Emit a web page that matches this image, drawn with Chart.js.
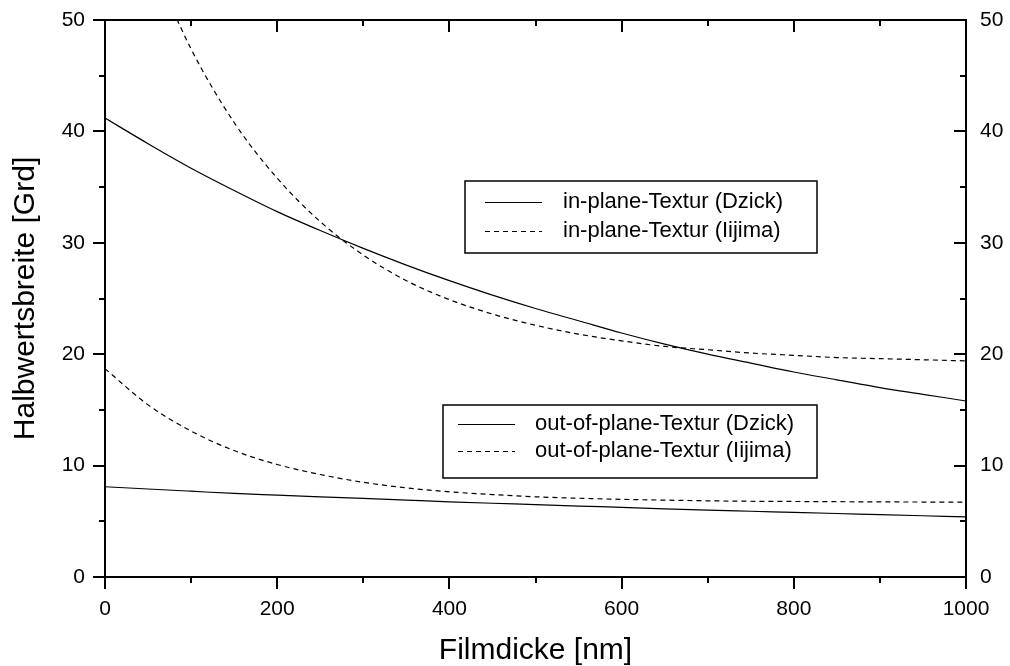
<!DOCTYPE html>
<html>
<head>
<meta charset="utf-8">
<script src="https://cdn.jsdelivr.net/npm/chart.js@4.4.0/dist/chart.umd.min.js"></script>
<style>
  html, body { margin: 0; padding: 0; background: #fff; }
  canvas { display: block; }
</style>
</head>
<body>
<canvas id="myChart" width="1010" height="666"></canvas>
<script>
// Filmdicke in nm
const filmdicke = [0, 50, 100, 150, 200, 250, 300, 350, 400, 450, 500,
                   550, 600, 650, 700, 750, 800, 850, 900, 950, 1000];

// Halbwertsbreite in Grd
const inPlaneDzick = [41.2, 38.9, 36.7, 34.7, 32.8, 31.1, 29.5, 28.0, 26.6, 25.3, 24.1,
                      23.0, 21.9, 20.9, 20.0, 19.2, 18.4, 17.7, 17.0, 16.4, 15.8];
const inPlaneIijima = [null, 56.0, 47.4, 40.8, 35.8, 31.9, 28.9, 26.6, 24.9, 23.6, 22.6,
                       21.8, 21.2, 20.7, 20.4, 20.1, 19.9, 19.7, 19.6, 19.5, 19.4];
const outPlaneDzick = [8.1, 7.9, 7.7, 7.5, 7.35, 7.2, 7.05, 6.9, 6.75, 6.62, 6.5,
                       6.37, 6.25, 6.12, 6.0, 5.9, 5.8, 5.7, 5.6, 5.5, 5.4];
const outPlaneIijima = [18.7, 15.45, 13.1, 11.35, 10.1, 9.2, 8.5, 8.0, 7.65, 7.4, 7.2,
                        7.07, 6.97, 6.9, 6.84, 6.8, 6.78, 6.76, 6.74, 6.73, 6.72];

const seriesLabels = [
  'in-plane-Textur (Dzick)',
  'in-plane-Textur (Iijima)',
  'out-of-plane-Textur (Dzick)',
  'out-of-plane-Textur (Iijima)'
];

const xMin = 0, xMax = 1000, xMajor = 200, xMinor = 100;
const yMin = 0, yMax = 50, yMajor = 10, yMinor = 5;

const FONT = "'Liberation Sans', Arial, sans-serif";

function toPoints(values) {
  return filmdicke.map(function(x, i) { return { x: x, y: values[i] }; });
}

function lineSet(label, values, dashed) {
  return {
    label: label,
    data: toPoints(values),
    borderColor: '#000',
    borderWidth: 1.2,
    borderDash: dashed ? [5, 4] : [],
    pointRadius: 0,
    fill: false,
    cubicInterpolationMode: 'monotone',
    spanGaps: false
  };
}

function plainLabel(v) { return String(v); }

// frame and tick marks (major/minor) drawn from the scales
const frameTicks = {
  id: 'frameTicks',
  afterDatasetsDraw(chart) {
    const ctx = chart.ctx;
    const a = chart.chartArea;
    const xs = chart.scales.x;
    const ys = chart.scales.y;
    ctx.save();
    ctx.strokeStyle = '#000';
    ctx.lineWidth = 2;
    ctx.lineCap = 'square';
    ctx.strokeRect(a.left, a.top, a.right - a.left, a.bottom - a.top);
    ctx.lineCap = 'butt';
    function tick(x1, y1, x2, y2) {
      ctx.beginPath();
      ctx.moveTo(x1, y1);
      ctx.lineTo(x2, y2);
      ctx.stroke();
    }
    for (let v = xMin; v <= xMax; v += xMinor) {
      const px = Math.round(xs.getPixelForValue(v));
      const len = v % xMajor === 0 ? 12 : 6;
      tick(px, a.bottom, px, a.bottom + len);
      tick(px, a.top, px, a.top + len);
    }
    for (let v = yMin; v <= yMax; v += yMinor) {
      const py = Math.round(ys.getPixelForValue(v));
      const len = v % yMajor === 0 ? 12 : 6;
      tick(a.left, py, a.left - len, py);
      tick(a.right, py, a.right - len, py);
    }
    ctx.restore();
  }
};

// two framed legend boxes inside the plot
const legendBoxes = {
  id: 'legendBoxes',
  afterDatasetsDraw(chart) {
    const ctx = chart.ctx;
    const boxes = [
      { x: 465, y: 181, w: 352, h: 72, sx: 485, tx: 563, rows: [0, 1], ry: [202, 231] },
      { x: 443, y: 405, w: 374, h: 73, sx: 458, tx: 535, rows: [2, 3], ry: [424, 451] }
    ];
    ctx.save();
    boxes.forEach(function(b) {
      ctx.fillStyle = '#fff';
      ctx.fillRect(b.x, b.y, b.w, b.h);
      ctx.strokeStyle = '#000';
      ctx.lineWidth = 1.5;
      ctx.setLineDash([]);
      ctx.strokeRect(b.x, b.y, b.w, b.h);
      b.rows.forEach(function(idx, k) {
        const ds = chart.data.datasets[idx];
        const y = b.ry[k];
        ctx.lineWidth = 1.2;
        ctx.setLineDash(ds.borderDash);
        ctx.beginPath();
        ctx.moveTo(b.sx, y + 0.5);
        ctx.lineTo(b.sx + 57, y + 0.5);
        ctx.stroke();
        ctx.setLineDash([]);
        ctx.fillStyle = '#000';
        ctx.font = '22px ' + FONT;
        ctx.textBaseline = 'middle';
        ctx.textAlign = 'left';
        ctx.fillText(ds.label, b.tx, y);
      });
    });
    ctx.restore();
  }
};

new Chart(document.getElementById('myChart'), {
  type: 'line',
  data: {
    datasets: [
      lineSet(seriesLabels[0], inPlaneDzick, false),
      lineSet(seriesLabels[1], inPlaneIijima, true),
      lineSet(seriesLabels[2], outPlaneDzick, false),
      lineSet(seriesLabels[3], outPlaneIijima, true)
    ]
  },
  options: {
    responsive: false,
    animation: false,
    devicePixelRatio: 1,
    layout: { padding: { top: 20, left: 0, right: 0, bottom: 0 } },
    plugins: {
      legend: { display: false },
      tooltip: { enabled: false }
    },
    scales: {
      x: {
        type: 'linear',
        position: 'bottom',
        min: xMin,
        max: xMax,
        grid: { display: false },
        border: { display: false },
        ticks: { stepSize: xMajor, callback: plainLabel, color: '#000', font: { family: FONT, size: 21 }, padding: 12, maxRotation: 0 },
        title: { display: true, text: 'Filmdicke [nm]', color: '#000', font: { family: FONT, size: 30 }, padding: { top: 0, bottom: -3 } },
        afterFit(s) { s.height = 89; s.paddingLeft = 0; s.paddingRight = 0; }
      },
      y: {
        type: 'linear',
        position: 'left',
        min: yMin,
        max: yMax,
        grid: { display: false },
        border: { display: false },
        ticks: { stepSize: yMajor, callback: plainLabel, color: '#000', font: { family: FONT, size: 21 }, padding: 12 },
        title: { display: true, text: 'Halbwertsbreite [Grd]', color: '#000', font: { family: FONT, size: 30 }, padding: { top: 8, bottom: 0 } },
        afterFit(s) { s.width = 105; s.paddingTop = 0; s.paddingBottom = 0; }
      },
      y2: {
        type: 'linear',
        position: 'right',
        min: yMin,
        max: yMax,
        grid: { display: false },
        border: { display: false },
        ticks: { stepSize: yMajor, callback: plainLabel, color: '#000', font: { family: FONT, size: 21 }, padding: 6 },
        afterFit(s) { s.width = 44; s.paddingTop = 0; s.paddingBottom = 0; }
      }
    }
  },
  plugins: [frameTicks, legendBoxes]
});
</script>
</body>
</html>
